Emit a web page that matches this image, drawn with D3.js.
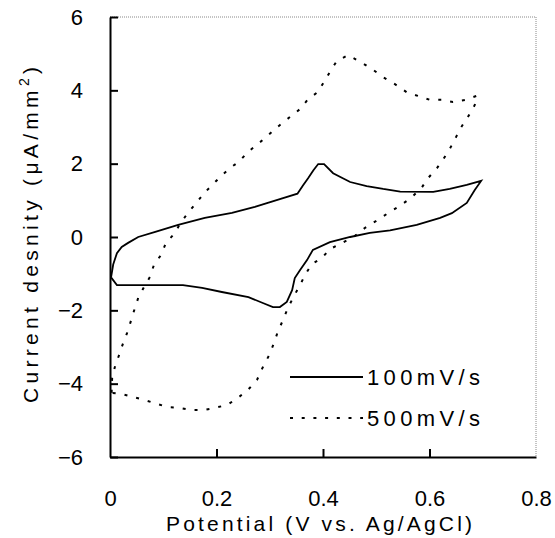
<!DOCTYPE html>
<html lang="en">
<head>
  <meta charset="UTF-8" />
  <title>Cyclic voltammogram</title>
  <script src="https://d3js.org/d3.v7.min.js"></script>
  <style>
    body {
      margin: 0;
      background: #fff;
    }
    svg {
      display: block;
      font-family: "Liberation Sans", Arial, sans-serif;
    }
    .tick text {
      font-size: 22px;
      fill: #000;
    }
  </style>
</head>
<body>
  <svg id="chart" width="555" height="538"></svg>

  <script>
    // 100 mV/s scan (solid)
    const cv100Potential = [
      0.002, 0.006, 0.013, 0.022, 0.034, 0.053, 0.085, 0.128, 0.178, 0.229, 0.272,
      0.325, 0.352, 0.362, 0.372, 0.382, 0.391, 0.402, 0.419, 0.451, 0.482, 0.513, 0.545,
      0.607, 0.638, 0.670, 0.697,
      0.685, 0.670, 0.642, 0.620, 0.576, 0.526, 0.488, 0.451, 0.413, 0.381, 0.370,
      0.357, 0.347, 0.342, 0.332, 0.319, 0.306, 0.287, 0.260, 0.210, 0.173, 0.137,
      0.013, 0.002
    ];
    const cv100Current = [
      -1.10, -0.75, -0.44, -0.27, -0.16, 0.00, 0.14, 0.33, 0.52, 0.66, 0.82,
      1.06, 1.18, 1.40, 1.60, 1.82, 1.99, 1.99, 1.74, 1.50, 1.39, 1.31, 1.24,
      1.23, 1.31, 1.42, 1.53,
      1.28, 0.93, 0.65, 0.52, 0.33, 0.18, 0.11, 0.00, -0.14, -0.35, -0.63,
      -0.90, -1.12, -1.45, -1.77, -1.91, -1.91, -1.80, -1.64, -1.50, -1.39, -1.31,
      -1.31, -1.10
    ];

    // 500 mV/s scan (dotted)
    const cv500Potential = [
      0.003, 0.004, 0.009, 0.017, 0.024, 0.032, 0.038, 0.045, 0.053, 0.064, 0.075,
      0.083, 0.096, 0.105, 0.122, 0.131, 0.146, 0.162, 0.177, 0.207, 0.225, 0.242,
      0.259, 0.278, 0.295, 0.317, 0.336, 0.357, 0.372, 0.390, 0.404, 0.415, 0.426,
      0.447, 0.471, 0.492, 0.513, 0.535, 0.557, 0.578, 0.601, 0.623, 0.644, 0.667,
      0.689,
      0.685, 0.672, 0.661, 0.650, 0.638, 0.625, 0.614, 0.597, 0.586, 0.565, 0.541,
      0.520, 0.500, 0.479, 0.460, 0.436, 0.413, 0.398, 0.379, 0.366, 0.357, 0.345,
      0.334, 0.325, 0.315, 0.308, 0.299, 0.287, 0.276, 0.259, 0.240, 0.220, 0.197,
      0.175, 0.154, 0.131, 0.109, 0.088, 0.066, 0.043, 0.022, 0.003
    ];
    const cv500Current = [
      -4.25, -3.85, -3.55, -3.22, -2.92, -2.62, -2.35, -2.02, -1.66, -1.36, -1.09,
      -0.74, -0.49, -0.16, 0.11, 0.35, 0.65, 0.93, 1.20, 1.64, 1.88, 2.05,
      2.32, 2.54, 2.75, 3.03, 3.25, 3.49, 3.76, 3.95, 4.28, 4.55, 4.80,
      4.96, 4.77, 4.58, 4.36, 4.17, 3.95, 3.85, 3.74, 3.74, 3.68, 3.74,
      3.85,
      3.60, 3.27, 3.03, 2.73, 2.40, 2.10, 1.88, 1.60, 1.36, 1.06, 0.82,
      0.63, 0.44, 0.25, 0.03, -0.16, -0.33, -0.57, -0.74, -1.04, -1.31, -1.62,
      -1.94, -2.26, -2.59, -2.89, -3.22, -3.55, -3.90, -4.17, -4.39, -4.58, -4.66,
      -4.72, -4.72, -4.66, -4.64, -4.55, -4.45, -4.36, -4.28, -4.25
    ];

    const xTicks = [0, 0.2, 0.4, 0.6, 0.8];
    const yTicks = [-6, -4, -2, 0, 2, 4, 6];
    const seriesNames = ["100mV/s", "500mV/s"];

    const svg = d3.select("#chart");
    const plotLeft = 110, plotRight = 536, plotTop = 17, plotBottom = 457;

    const x = d3.scaleLinear().domain([0, 0.8]).range([plotLeft, plotRight]);
    const y = d3.scaleLinear().domain([-6, 6]).range([plotBottom, plotTop]);

    // top and right borders (thin dotted grey)
    svg.append("path")
      .attr("d", `M${plotLeft},${plotTop} H${plotRight} V${plotBottom}`)
      .attr("fill", "none")
      .attr("stroke", "#888")
      .attr("stroke-width", 1)
      .attr("stroke-dasharray", "1,1");

    const yAxis = svg.append("g")
      .attr("transform", `translate(${plotLeft},0)`)
      .call(d3.axisLeft(y).tickValues(yTicks).tickSizeInner(-8).tickSizeOuter(0)
        .tickPadding(27).tickFormat(d => d < 0 ? "\u2212" + Math.abs(d) : d));

    const xAxis = svg.append("g")
      .attr("transform", `translate(0,${plotBottom})`)
      .call(d3.axisBottom(x).tickValues(xTicks).tickSizeInner(-8).tickSizeOuter(0)
        .tickPadding(33).tickFormat(d => d === 0 ? "0" : d3.format(".1f")(d)));

    [xAxis, yAxis].forEach(g => {
      g.select(".domain").attr("stroke", "#000").attr("stroke-width", 2);
      g.selectAll(".tick line").attr("stroke", "#000").attr("stroke-width", 2);
      g.attr("font-family", null).attr("font-size", null);
    });
    xAxis.selectAll(".tick").filter(d => d === 0 || d === 0.8).select("line").remove();

    const line = d3.line().x(d => x(d[0])).y(d => y(d[1]));

    const cv100 = d3.zip(cv100Potential, cv100Current);
    const cv500 = d3.zip(cv500Potential, cv500Current);

    svg.append("path")
      .datum(cv500)
      .attr("d", line)
      .attr("fill", "none")
      .attr("stroke", "#000")
      .attr("stroke-width", 2)
      .attr("stroke-dasharray", "3,9");

    svg.append("path")
      .datum(cv100)
      .attr("d", line)
      .attr("fill", "none")
      .attr("stroke", "#000")
      .attr("stroke-width", 1.8);

    // legend
    const legend = svg.append("g");
    seriesNames.forEach((name, i) => {
      const ly = 377 + i * 41;
      legend.append("line")
        .attr("x1", 290).attr("x2", 363)
        .attr("y1", ly).attr("y2", ly)
        .attr("stroke", "#000")
        .attr("stroke-width", i === 0 ? 1.8 : 2)
        .attr("stroke-dasharray", i === 0 ? null : "3,8.7");
      legend.append("text")
        .attr("x", 367).attr("y", ly + 8)
        .attr("font-size", 22)
        .attr("textLength", 113)
        .attr("lengthAdjust", "spacing")
        .text(name);
    });

    // axis titles
    svg.append("text")
      .attr("x", 319).attr("y", 531)
      .attr("text-anchor", "middle")
      .attr("font-size", 21)
      .attr("textLength", 306)
      .attr("lengthAdjust", "spacing")
      .text("Potential (V vs. Ag/AgCl)");

    const yTitle = svg.append("text")
      .attr("transform", "translate(38,235) rotate(-90)")
      .attr("text-anchor", "middle")
      .attr("font-size", 21)
      .attr("textLength", 336)
      .attr("lengthAdjust", "spacing");
    yTitle.append("tspan").text("Current desnity (\u03bcA/mm");
    yTitle.append("tspan").attr("font-size", 14).attr("dy", -9).text("2");
    yTitle.append("tspan").attr("dy", 9).text(")");
  </script>
</body>
</html>
